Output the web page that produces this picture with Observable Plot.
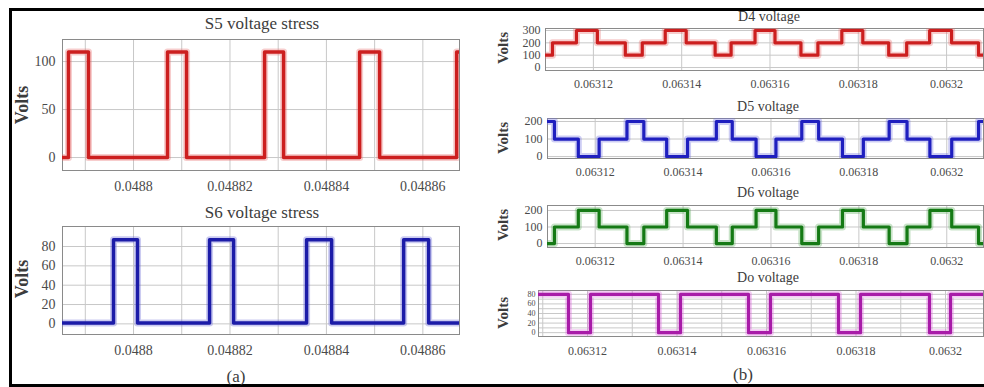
<!DOCTYPE html>
<html><head><meta charset="utf-8">
<script src="https://cdn.jsdelivr.net/npm/d3@7"></script>
<script src="https://cdn.jsdelivr.net/npm/@observablehq/plot@0.6"></script>
<style>
html,body{margin:0;padding:0;background:#fff;}
#root{position:relative;width:984px;height:387px;overflow:hidden;background:#fff;font-family:'Liberation Serif',serif;}
.lbl{position:absolute;transform:translate(-50%,-50%);white-space:nowrap;color:#3c3c3c;}
.vol{position:absolute;transform:translate(-50%,-50%) rotate(-90deg);white-space:nowrap;color:#3c3c3c;font-weight:bold;}
</style></head>
<body><div id="root"></div>
<script>
// ---------- (a) S5 / S6 ----------
const sXDomain = [0.04878527, 0.0488676];
const sXTicks = [0.0488, 0.04882, 0.04884, 0.04886];
const sXGrid = [0.04879, 0.0488, 0.04881, 0.04882, 0.04883, 0.04884, 0.04885, 0.04886];

const s5Time = [0.04878527, 0.04878651, 0.04879066, 0.04880705, 0.04881100, 0.04882718, 0.04883112, 0.04884689, 0.04885104, 0.04886701, 0.0488676];
const s5Volt = [0, 110, 0, 110, 0, 110, 0, 110, 0, 110, 110];
const s5YTicks = [0, 50, 100];

const s6Time = [0.04878527, 0.04879585, 0.04880083, 0.04881577, 0.04882075, 0.04883589, 0.04884108, 0.04885602, 0.04886120, 0.0488676];
const s6Volt = [1, 87, 1, 87, 1, 87, 1, 87, 1, 1];
const s6YTicks = [0, 20, 40, 60, 80];

// ---------- (b) D4 / D5 / D6 / Do ----------
const dXDomain = [0.06310915, 0.06320836];
const dXTicks = [0.06312, 0.06314, 0.06316, 0.06318, 0.0632];
const dTime = [0.06310915, 0.06311073, 0.06311616, 0.06312090, 0.06312723, 0.06313107, 0.06313627, 0.06314102, 0.06314757, 0.06315119, 0.06315661, 0.06316113, 0.06316701, 0.06317085, 0.06317627, 0.06318102, 0.06318689, 0.06319096, 0.06319616, 0.06320113, 0.06320723, 0.06320836];
const d4Volt = [100, 200, 300, 200, 100, 200, 300, 200, 100, 200, 300, 200, 100, 200, 300, 200, 100, 200, 300, 200, 100, 100];
const d5Volt = [200, 100, 0, 100, 200, 100, 0, 100, 200, 100, 0, 100, 200, 100, 0, 100, 200, 100, 0, 100, 200, 200];
const d6Volt = [0, 100, 200, 100, 0, 100, 200, 100, 0, 100, 200, 100, 0, 100, 200, 100, 0, 100, 200, 100, 0, 0];
const d4YTicks = [0, 100, 200, 300];
const d5YTicks = [0, 100, 200];
const d6YTicks = [0, 100, 200];

const doXDomain = [0.06310905, 0.06320849];
const doXGrid = [0.06311, 0.06312, 0.06313, 0.06314, 0.06315, 0.06316, 0.06317, 0.06318, 0.06319, 0.0632];
const doTime = [0.06310905, 0.06311575, 0.06312067, 0.06313587, 0.06314078, 0.06315598, 0.06316089, 0.06317609, 0.06318101, 0.06319642, 0.06320112, 0.06320849];
const doVolt = [80, 0, 80, 0, 80, 0, 80, 0, 80, 0, 80, 80];
const doYTicks = [0, 20, 40, 60, 80];
const doYGrid = [0, 10, 20, 30, 40, 50, 60, 70, 80];

const root = document.getElementById("root");
const fmt = d => String(+d.toFixed(6));

function panel(o) {
  const mL = 60, mR = 4, mT = 4, mB = 34;
  const W = o.r - o.l + mL + mR, H = o.b - o.t + mT + mB;
  const data = o.time.map((t, i) => ({t, v: o.volt[i]}));
  const svg = Plot.plot({
    width: W, height: H, marginLeft: mL, marginRight: mR, marginTop: mT, marginBottom: mB,
    x: {domain: o.xd}, y: {domain: o.yd},
    style: {fontFamily: "'Liberation Serif', serif", fontSize: o.fs + "px", color: "#4a4a4a", background: "transparent", overflow: "visible"},
    marks: [
      Plot.gridX(o.xGrid, {stroke: "#c8c8c8", strokeOpacity: 1}),
      Plot.gridY(o.yGrid, {stroke: "#c8c8c8", strokeOpacity: 1}),
      Plot.frame({stroke: "#8a8a8a"}),
      Plot.line(data, {x: "t", y: "v", curve: "step-after", stroke: o.halo, strokeWidth: 7, strokeOpacity: 0.35, strokeLinejoin: "round", clip: true}),
      Plot.line(data, {x: "t", y: "v", curve: "step-after", stroke: o.color, strokeWidth: o.sw, strokeLinejoin: "round", clip: true}),
      Plot.axisX(o.xTicks, {tickSize: 0, tickPadding: o.xp, tickFormat: fmt, label: null, fontSize: o.fs}),
      Plot.axisY(o.yTicks, {tickSize: 0, tickPadding: o.yp, label: null, fontSize: o.yfs || o.fs})
    ]
  });
  svg.style.position = "absolute";
  svg.style.left = (o.l - mL) + "px";
  svg.style.top = (o.t - mT) + "px";
  root.appendChild(svg);
}

function label(text, x, y, size, cls) {
  const d = document.createElement("div");
  d.className = cls || "lbl";
  d.textContent = text;
  d.style.left = x + "px"; d.style.top = y + "px"; d.style.fontSize = size + "px";
  root.appendChild(d);
}

// outer border
const border = document.createElement("div");
Object.assign(border.style, {position: "absolute", left: "9px", top: "8px", width: "990px", height: "379px", border: "3px solid #000", boxSizing: "border-box"});
root.appendChild(border);

panel({l: 62, r: 459, t: 39, b: 170, xd: sXDomain, yd: [-13.5, 123], time: s5Time, volt: s5Volt,
  xTicks: sXTicks, xGrid: sXGrid, yTicks: s5YTicks, yGrid: s5YTicks, color: "#cc1f1f", halo: "#e87070", sw: 3.5, fs: 14, xp: 11, yp: 7});
panel({l: 62, r: 459, t: 226, b: 334, xd: sXDomain, yd: [-11, 100.7], time: s6Time, volt: s6Volt,
  xTicks: sXTicks, xGrid: sXGrid, yTicks: s6YTicks, yGrid: s6YTicks, color: "#1c1ca8", halo: "#6a6ad8", sw: 3.5, fs: 14, xp: 11, yp: 7});

panel({l: 545, r: 983, t: 28, b: 70, xd: dXDomain, yd: [-24, 316], time: dTime, volt: d4Volt,
  xTicks: dXTicks, xGrid: dXTicks, yTicks: d4YTicks, yGrid: d4YTicks, color: "#cc1f1f", halo: "#e87070", sw: 3.2, fs: 12, xp: 9, yp: 5});
panel({l: 547, r: 983, t: 118, b: 158, xd: dXDomain, yd: [-11, 217], time: dTime, volt: d5Volt,
  xTicks: dXTicks, xGrid: dXTicks, yTicks: d5YTicks, yGrid: d5YTicks, color: "#1f1fbf", halo: "#7070e0", sw: 3.2, fs: 12, xp: 9, yp: 5});
panel({l: 547, r: 983, t: 205, b: 247, xd: dXDomain, yd: [-24, 230], time: dTime, volt: d6Volt,
  xTicks: dXTicks, xGrid: dXTicks, yTicks: d6YTicks, yGrid: d6YTicks, color: "#157a15", halo: "#60b060", sw: 3.2, fs: 12, xp: 9, yp: 5});
panel({l: 538, r: 983, t: 290, b: 336, xd: doXDomain, yd: [-8, 88], time: doTime, volt: doVolt,
  xTicks: dXTicks, xGrid: doXGrid, yTicks: doYTicks, yGrid: doYGrid, color: "#a81ca8", halo: "#e070e0", sw: 3.2, fs: 12, yfs: 8, xp: 10, yp: 3});

// titles & labels
label("S5 voltage stress", 262, 24, 17);
label("S6 voltage stress", 262, 213, 17);
label("Volts", 22, 105, 18, "vol");
label("Volts", 22, 279, 18, "vol");
label("(a)", 236, 377, 17);
label("D4 voltage", 769, 17, 14);
label("D5 voltage", 768, 107, 14);
label("D6 voltage", 768, 193, 14);
label("Do voltage", 768, 278, 14);
label("Volts", 503, 48, 15, "vol");
label("Volts", 503, 138, 15, "vol");
label("Volts", 503, 225, 15, "vol");
label("Volts", 503, 313, 15, "vol");
label("(b)", 743, 375, 17);
</script>
</body></html>
